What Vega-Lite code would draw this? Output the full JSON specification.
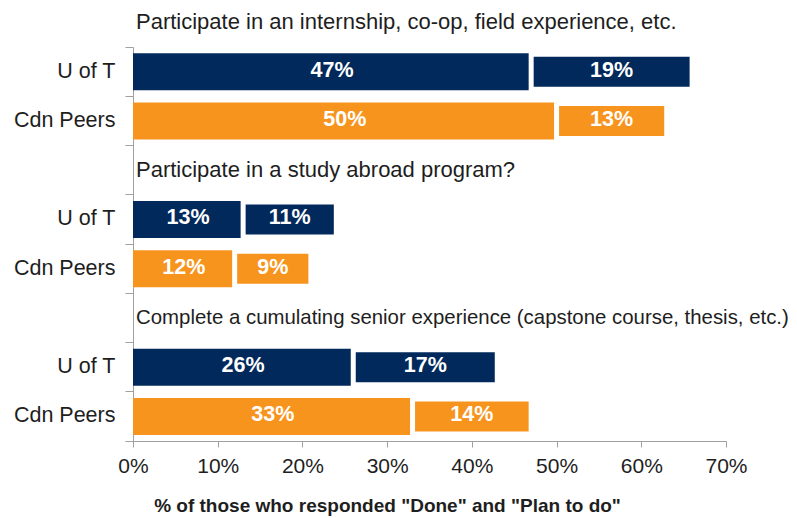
{
  "$schema": "https://vega.github.io/schema/vega-lite/v6.json",
  "width": 593,
  "height": 394,
  "autosize": {"type": "none"},
  "padding": {"left": 133, "top": 47, "right": 71, "bottom": 77},
  "background": "white",
  "config": {"view": {"stroke": null}, "font": "Liberation Sans"},
  "title": {
    "text": "Participate in an internship, co-op, field experience, etc.",
    "anchor": "start",
    "frame": "group",
    "fontSize": 22,
    "fontWeight": "normal",
    "color": "#1e1e1e",
    "font": "Liberation Sans",
    "offset": 2,
    "dx": 3
  },
  "datasets": {
    "bars": [
      {"row": "a1", "who": "U of T", "seg": "Done", "pct": 0.47},
      {"row": "a1", "who": "U of T", "seg": "Plan", "pct": 0.19},
      {"row": "a2", "who": "Cdn Peers", "seg": "Done", "pct": 0.50},
      {"row": "a2", "who": "Cdn Peers", "seg": "Plan", "pct": 0.13},
      {"row": "b1", "who": "U of T", "seg": "Done", "pct": 0.13},
      {"row": "b1", "who": "U of T", "seg": "Plan", "pct": 0.11},
      {"row": "b2", "who": "Cdn Peers", "seg": "Done", "pct": 0.12},
      {"row": "b2", "who": "Cdn Peers", "seg": "Plan", "pct": 0.09},
      {"row": "c1", "who": "U of T", "seg": "Done", "pct": 0.26},
      {"row": "c1", "who": "U of T", "seg": "Plan", "pct": 0.17},
      {"row": "c2", "who": "Cdn Peers", "seg": "Done", "pct": 0.33},
      {"row": "c2", "who": "Cdn Peers", "seg": "Plan", "pct": 0.14}
    ],
    "heads": [
      {"row": "b0", "text": "Participate in a study abroad program?"},
      {"row": "c0", "text": "Complete a cumulating senior experience (capstone course, thesis, etc.)"}
    ]
  },
  "layer": [
    {
      "data": {"name": "bars"},
      "mark": {"type": "bar", "stroke": "white"},
      "encoding": {
        "y": {
          "field": "row",
          "type": "nominal",
          "scale": {"domain": ["a1", "a2", "b0", "b1", "b2", "c0", "c1", "c2"], "paddingInner": 0, "paddingOuter": 0},
          "axis": {
            "title": null,
            "bandPosition": 1,
            "tickExtra": true,
            "tickSize": 8,
            "labelPadding": 10,
            "labelFontSize": 21.5,
            "labelFont": "Liberation Sans",
            "labelColor": "#1e1e1e",
            "domainColor": "#a0a0a0",
            "tickColor": "#a0a0a0",
            "labelExpr": "datum.value == 'a1' || datum.value == 'b1' || datum.value == 'c1' ? 'U of T' : (datum.value == 'a2' || datum.value == 'b2' || datum.value == 'c2' ? 'Cdn Peers' : '')"
          }
        },
        "x": {
          "field": "pct",
          "type": "quantitative",
          "stack": "zero",
          "scale": {"domain": [0, 0.7], "nice": false},
          "axis": {
            "title": "% of those who responded \"Done\" and \"Plan to do\"",
            "format": ".0%",
            "values": [0, 0.1, 0.2, 0.3, 0.4, 0.5, 0.6, 0.7],
            "grid": false,
            "tickSize": 6,
            "labelFlush": false,
            "labelOverlap": false,
            "labelFontSize": 21,
            "labelFont": "Liberation Sans",
            "labelPadding": 8,
            "labelColor": "#1e1e1e",
            "titleFont": "Liberation Sans",
            "titleFontSize": 19,
            "titleFontWeight": "bold",
            "titleColor": "#1e1e1e",
            "titlePadding": 20,
            "titleX": 254,
            "domainColor": "#a0a0a0",
            "tickColor": "#a0a0a0"
          }
        },
        "order": {"field": "seg", "type": "nominal", "sort": "ascending"},
        "color": {
          "field": "who",
          "type": "nominal",
          "scale": {"domain": ["U of T", "Cdn Peers"], "range": ["#02295B", "#F7941E"]},
          "legend": null
        },
        "size": {"field": "seg", "type": "ordinal", "scale": {"domain": ["Done", "Plan"], "range": [37, 35]}, "legend": null},
        "strokeWidth": {"field": "seg", "type": "ordinal", "scale": {"domain": ["Done", "Plan"], "range": [0, 5]}, "legend": null}
      }
    },
    {
      "data": {"name": "bars"},
      "transform": [
        {"stack": "pct", "groupby": ["row"], "sort": [{"field": "seg", "order": "ascending"}], "as": ["v0", "v1"]},
        {"fold": ["v0", "v1"], "as": ["k", "p"]},
        {"aggregate": [{"op": "mean", "field": "p", "as": "mid"}], "groupby": ["row", "seg", "pct"]}
      ],
      "mark": {"type": "text", "color": "white", "fontWeight": "bold", "fontSize": 21.5, "font": "Liberation Sans", "align": "center", "baseline": "middle", "dy": -1},
      "encoding": {
        "y": {"field": "row", "type": "nominal"},
        "x": {"field": "mid", "type": "quantitative"},
        "text": {"field": "pct", "type": "quantitative", "format": ".0%"}
      }
    },
    {
      "data": {"name": "heads"},
      "transform": [{"filter": "datum.row == 'b0'"}],
      "mark": {"type": "text", "align": "left", "baseline": "middle", "fontSize": 22, "font": "Liberation Sans", "color": "#1e1e1e", "dx": 3},
      "encoding": {
        "y": {"field": "row", "type": "nominal"},
        "x": {"datum": 0, "type": "quantitative"},
        "text": {"field": "text", "type": "nominal"}
      }
    },
    {
      "data": {"name": "heads"},
      "transform": [{"filter": "datum.row == 'c0'"}],
      "mark": {"type": "text", "align": "left", "baseline": "middle", "fontSize": 20.4, "font": "Liberation Sans", "color": "#1e1e1e", "dx": 3},
      "encoding": {
        "y": {"field": "row", "type": "nominal"},
        "x": {"datum": 0, "type": "quantitative"},
        "text": {"field": "text", "type": "nominal"}
      }
    }
  ]
}
